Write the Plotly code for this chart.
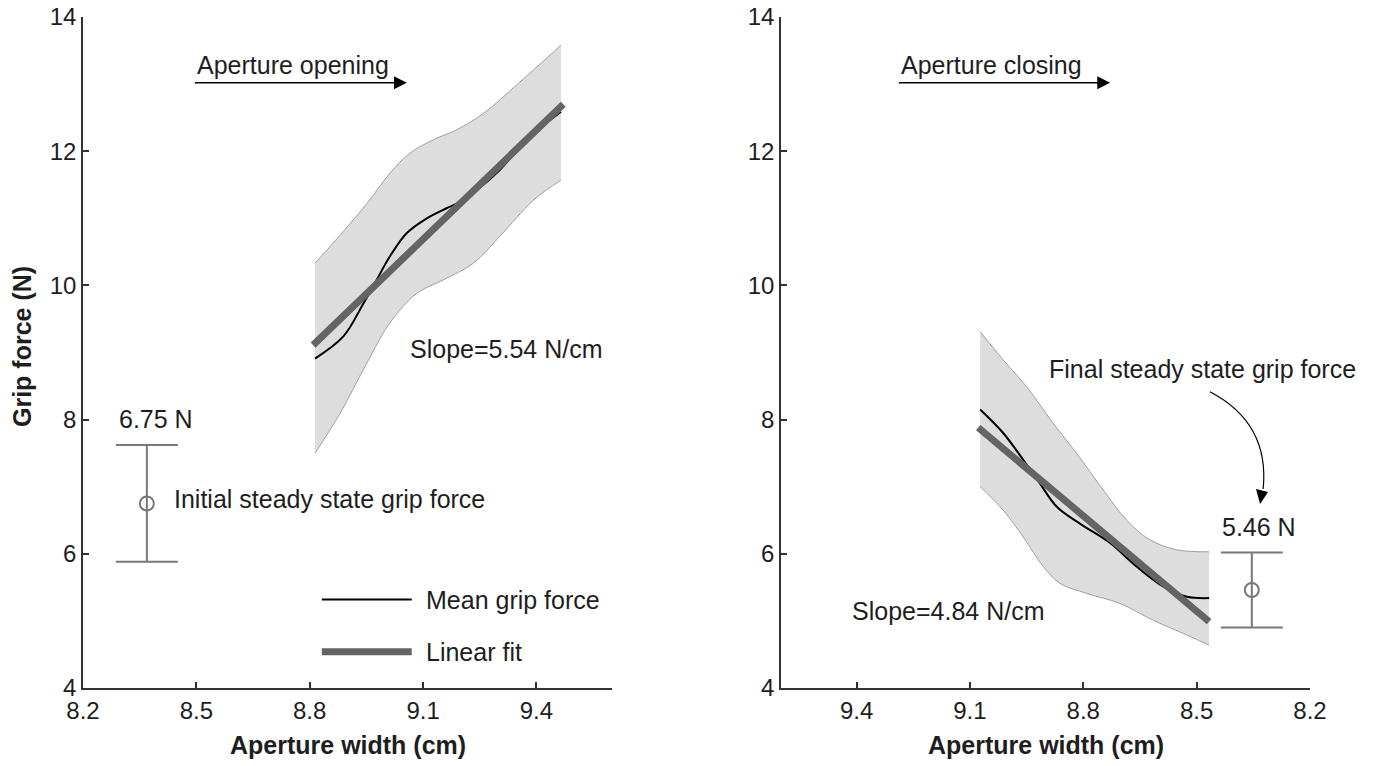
import plotly.graph_objects as go

# ---------------- data ----------------
x_ticks = [8.2, 8.5, 8.8, 9.1, 9.4]
x_tick_text = ["8.2", "8.5", "8.8", "9.1", "9.4"]
y_ticks = [4, 6, 8, 10, 12, 14]
y_tick_text = ["4", "6", "8", "10", "12", "14"]

# Left panel: aperture opening
open_upper_x = [8.814, 8.862, 8.951, 9.012, 9.065, 9.127, 9.189, 9.259, 9.348, 9.465]
open_upper_y = [10.33, 10.63, 11.22, 11.67, 11.97, 12.17, 12.32, 12.56, 12.99, 13.58]
open_lower_x = [8.814, 8.880, 8.951, 9.012, 9.083, 9.153, 9.233, 9.303, 9.392, 9.465]
open_lower_y = [7.50, 8.09, 8.84, 9.44, 9.88, 10.08, 10.33, 10.73, 11.27, 11.57]
open_mean_x = [8.814, 8.889, 8.942, 8.977, 9.012, 9.057, 9.110, 9.162, 9.189, 9.242, 9.303, 9.374, 9.465]
open_mean_y = [8.91, 9.24, 9.73, 10.08, 10.43, 10.78, 11.00, 11.15, 11.22, 11.42, 11.72, 12.17, 12.59]
open_fit_x = [8.809, 9.471]
open_fit_y = [9.11, 12.70]
initial_x = [8.369]
initial_mean = [6.75]
initial_sd = [0.87]

# Right panel: aperture closing
close_upper_x = [9.073, 9.012, 8.950, 8.879, 8.818, 8.747, 8.685, 8.624, 8.553, 8.467]
close_upper_y = [9.31, 8.89, 8.49, 7.94, 7.50, 6.95, 6.50, 6.21, 6.06, 6.03]
close_lower_x = [9.073, 9.012, 8.959, 8.906, 8.862, 8.791, 8.703, 8.615, 8.526, 8.467]
close_lower_y = [7.00, 6.65, 6.25, 5.81, 5.56, 5.41, 5.26, 5.01, 4.79, 4.64]
close_mean_x = [9.073, 9.012, 8.959, 8.915, 8.870, 8.809, 8.729, 8.659, 8.588, 8.526, 8.467]
close_mean_y = [8.15, 7.80, 7.40, 7.05, 6.70, 6.45, 6.16, 5.81, 5.51, 5.36, 5.34]
close_fit_x = [9.078, 8.467]
close_fit_y = [7.88, 4.99]
final_x = [8.354]
final_mean = [5.46]
final_sd = [0.56]

# ---------------- style ----------------
FONT = "Liberation Sans, Arial, Helvetica, sans-serif"
BAND_FILL = "rgb(221,221,221)"
BAND_EDGE = "rgb(160,160,160)"
FIT_COLOR = "rgb(100,100,100)"
ERR_COLOR = "rgb(120,120,120)"
AXIS_COLOR = "rgb(50,50,50)"
TXT = 25
TICK = 24

W, H = 1375, 766


def px_x(p):
    return p / W


def px_y(p):
    return 1 - p / H


fig = go.Figure()


def add_panel(ux, uy, lx, ly, mx, my, fx, fy, ex, em, es, xa, ya):
    fig.add_trace(go.Scatter(x=lx, y=ly, mode="lines",
                             line=dict(color=BAND_EDGE, width=1, shape="spline"),
                             xaxis=xa, yaxis=ya, hoverinfo="skip", showlegend=False))
    fig.add_trace(go.Scatter(x=ux, y=uy, mode="lines", fill="tonexty", fillcolor=BAND_FILL,
                             line=dict(color=BAND_EDGE, width=1, shape="spline"),
                             xaxis=xa, yaxis=ya, hoverinfo="skip", showlegend=False))
    fig.add_trace(go.Scatter(x=mx, y=my, mode="lines",
                             line=dict(color="black", width=2, shape="spline"),
                             xaxis=xa, yaxis=ya, showlegend=False))
    fig.add_trace(go.Scatter(x=fx, y=fy, mode="lines",
                             line=dict(color=FIT_COLOR, width=7),
                             xaxis=xa, yaxis=ya, showlegend=False))
    fig.add_trace(go.Scatter(x=ex, y=em, mode="markers",
                             marker=dict(symbol="circle-open", size=14, color=ERR_COLOR,
                                         line=dict(width=2, color=ERR_COLOR)),
                             error_y=dict(type="data", array=es, visible=True, color=ERR_COLOR,
                                          thickness=2, width=31),
                             xaxis=xa, yaxis=ya, showlegend=False))


add_panel(open_upper_x, open_upper_y, open_lower_x, open_lower_y, open_mean_x, open_mean_y,
          open_fit_x, open_fit_y, initial_x, initial_mean, initial_sd, "x", "y")
add_panel(close_upper_x, close_upper_y, close_lower_x, close_lower_y, close_mean_x, close_mean_y,
          close_fit_x, close_fit_y, final_x, final_mean, final_sd, "x2", "y2")

# manual legend (left panel)
fig.add_trace(go.Scatter(x=[8.832, 9.07], y=[5.32, 5.32], mode="lines",
                         line=dict(color="black", width=2), xaxis="x", yaxis="y", showlegend=False))
fig.add_trace(go.Scatter(x=[8.832, 9.07], y=[4.54, 4.54], mode="lines",
                         line=dict(color=FIT_COLOR, width=7), xaxis="x", yaxis="y", showlegend=False))

axis_common = dict(showline=True, linecolor=AXIS_COLOR, linewidth=1.5, ticks="inside", ticklen=6,
                   tickwidth=1.5, tickcolor=AXIS_COLOR, showgrid=False, zeroline=False,
                   automargin=False, ticklabeloverflow="allow",
                   tickfont=dict(family=FONT, size=TICK, color="rgb(30,30,30)"))

ydom = [px_y(688), px_y(17)]
fig.update_layout(
    template="none",
    width=W, height=H, autosize=False,
    margin=dict(l=0, r=0, t=0, b=0, pad=0),
    paper_bgcolor="white", plot_bgcolor="white",
    font=dict(family=FONT, size=TXT, color="rgb(30,30,30)"),
    xaxis=dict(domain=[px_x(83), px_x(612)], range=[8.2, 9.6], anchor="y",
               tickvals=x_ticks + [9.6], ticktext=x_tick_text + [""], **axis_common),
    yaxis=dict(domain=ydom, range=[4, 14], anchor="x", tickvals=y_ticks, ticktext=y_tick_text,
               **axis_common),
    xaxis2=dict(domain=[px_x(781), px_x(1310)], range=[9.6, 8.2], anchor="y2",
                tickvals=x_ticks, ticktext=x_tick_text, **axis_common),
    yaxis2=dict(domain=ydom, range=[4, 14], anchor="x2", tickvals=y_ticks, ticktext=y_tick_text,
                **axis_common),
)

ann = []


def txt(text, x, y, xref, yref, xanchor="left", size=TXT, bold=False, angle=0):
    ann.append(dict(text=f"<b>{text}</b>" if bold else text, x=x, y=y, xref=xref, yref=yref,
                    xanchor=xanchor, yanchor="middle", showarrow=False, textangle=angle,
                    font=dict(family=FONT, size=size, color="rgb(30,30,30)")))


# axis titles
txt("Aperture width (cm)", px_x((83 + 612) / 2), px_y(745), "paper", "paper", "center", 25, True)
txt("Aperture width (cm)", px_x((781 + 1310) / 2), px_y(745), "paper", "paper", "center", 25, True)
txt("Grip force (N)", px_x(22), px_y(347), "paper", "paper", "center", 25, True, -90)

# left panel texts
txt("Aperture opening", 8.496, 13.29, "x", "y")
txt("Slope=5.54 N/cm", 9.06, 9.05, "x", "y")
txt("6.75 N", 8.394, 8.01, "x", "y", "center")
txt("Initial steady state grip force", 8.435, 6.82, "x", "y")
txt("Mean grip force", 9.102, 5.31, "x", "y")
txt("Linear fit", 9.102, 4.54, "x", "y")

# right panel texts
txt("Aperture closing", 9.288, 13.29, "x2", "y2")
txt("Final steady state grip force", 8.896, 8.75, "x2", "y2")
txt("5.46 N", 8.335, 6.40, "x2", "y2", "center")
txt("Slope=4.84 N/cm", 9.417, 5.15, "x2", "y2")

fig.update_layout(annotations=ann)

shapes = []
# straight arrows
shapes.append(dict(type="line", xref="x", yref="y", x0=8.496, x1=9.03, y0=13.02, y1=13.02,
                   line=dict(color="black", width=1.5)))
shapes.append(dict(type="path", xref="x", yref="y",
                   path="M 9.023,13.117 L 9.057,13.02 L 9.023,12.923 Z",
                   fillcolor="black", line=dict(width=0)))
shapes.append(dict(type="line", xref="x2", yref="y2", x0=9.288, x1=8.76, y0=13.02, y1=13.02,
                   line=dict(color="black", width=1.5)))
shapes.append(dict(type="path", xref="x2", yref="y2",
                   path="M 8.763,13.117 L 8.729,13.02 L 8.763,12.923 Z",
                   fillcolor="black", line=dict(width=0)))
# curved arrow to the final steady-state point
shapes.append(dict(type="path", xref="x2", yref="y2",
                   path="M 8.465,8.416 C 8.372,8.143 8.311,7.696 8.324,6.966",
                   line=dict(color="black", width=1.2)))
shapes.append(dict(type="path", xref="x2", yref="y2",
                   path="M 8.343,6.966 L 8.311,6.921 L 8.332,6.742 Z",
                   fillcolor="black", line=dict(width=0)))
fig.update_layout(shapes=shapes)

# remove the default 8px page margin so the figure fills the window exactly
fig.write_html("out.html",
               config={"displayModeBar": False},
               post_script="document.body.style.margin='0';document.body.style.overflow='hidden';")
